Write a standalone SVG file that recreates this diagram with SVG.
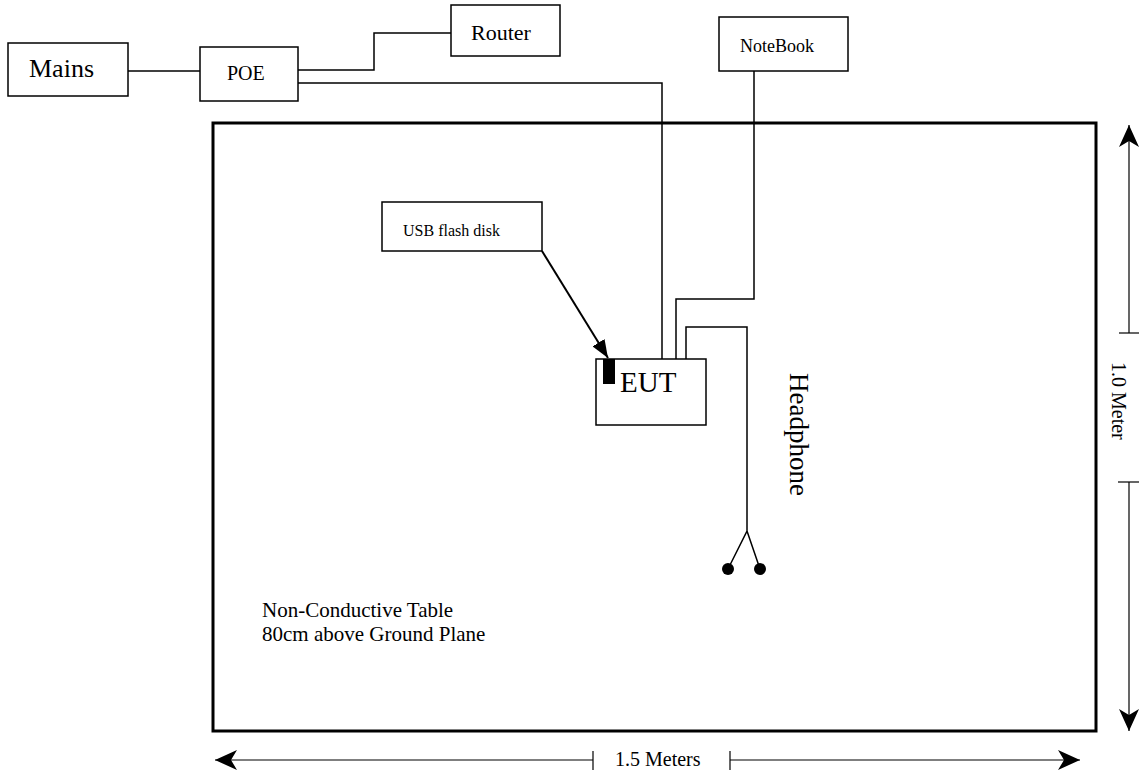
<svg xmlns="http://www.w3.org/2000/svg" width="1139" height="774" viewBox="0 0 1139 774">
<style>
  .box { fill: #fff; stroke: #000; stroke-width: 1.5; }
  .wire { fill: none; stroke: #000; stroke-width: 1.5; }
  .dim { fill: none; stroke: #000; stroke-width: 1.2; }
  text { font-family: "Liberation Serif", "Times New Roman", serif; fill: #000; }
</style>
<defs>
  <marker id="chev" viewBox="0 0 22 20" refX="22" refY="10" markerWidth="22" markerHeight="20" markerUnits="userSpaceOnUse" orient="auto-start-reverse">
    <path d="M0,0 L22,10 L0,20 L6,10 Z" fill="#000"/>
  </marker>
  <marker id="tri" viewBox="0 0 18 14" refX="18" refY="7" markerWidth="18" markerHeight="14" markerUnits="userSpaceOnUse" orient="auto">
    <path d="M0,0 L18,7 L0,14 Z" fill="#000"/>
  </marker>
</defs>

<g id="table">
  <rect x="213" y="123" width="883" height="608" fill="none" stroke="#000" stroke-width="3"/>
  <text x="262" y="617" font-size="21">Non-Conductive Table</text>
  <text x="262" y="641" font-size="21">80cm above Ground Plane</text>
</g>

<g id="connectors">
  <path class="wire" d="M128,71 H200"/>
  <path class="wire" d="M298,70 H374 V33 H451"/>
  <path class="wire" d="M298,83 H662 V359"/>
  <path class="wire" d="M754,71 V299 H676 V359"/>
  <path class="wire" d="M686,359 V327 H747 V531 L728,569 M747,531 L760,569"/>
  <line x1="542" y1="251" x2="608" y2="358" stroke="#000" stroke-width="2" marker-end="url(#tri)"/>
</g>

<g id="mains">
  <rect class="box" x="8" y="43" width="120" height="53"/>
  <text x="29" y="77" font-size="26">Mains</text>
</g>
<g id="poe">
  <rect class="box" x="200" y="47" width="98" height="54"/>
  <text x="227" y="80" font-size="20">POE</text>
</g>
<g id="router">
  <rect class="box" x="451" y="5" width="109" height="51"/>
  <text x="471" y="40" font-size="22">Router</text>
</g>
<g id="notebook">
  <rect class="box" x="719" y="17" width="129" height="54"/>
  <text x="740" y="52" font-size="18">NoteBook</text>
</g>
<g id="usb">
  <rect class="box" x="382" y="202" width="160" height="49"/>
  <text x="403" y="236" font-size="16">USB flash disk</text>
</g>
<g id="eut">
  <rect class="box" x="596" y="359" width="110" height="66"/>
  <rect x="603" y="359" width="12" height="25" fill="#000"/>
  <text x="620" y="392" font-size="29">EUT</text>
</g>
<g id="headphone">
  <circle cx="728" cy="569" r="6" fill="#000"/>
  <circle cx="760" cy="569" r="6" fill="#000"/>
  <text transform="translate(790,373) rotate(90)" font-size="27">Headphone</text>
</g>

<g id="dimensions">
  <path class="dim" d="M1129,333 V125" marker-end="url(#chev)"/>
  <path class="dim" d="M1119,333 H1139"/>
  <text transform="translate(1112,362) rotate(90)" font-size="20">1.0 Meter</text>
  <path class="dim" d="M1118,482 H1139"/>
  <path class="dim" d="M1129,482 V731" marker-end="url(#chev)"/>
  <path class="dim" d="M593,760 H215" marker-end="url(#chev)"/>
  <path class="dim" d="M593,751 V770"/>
  <text x="615" y="766" font-size="20">1.5 Meters</text>
  <path class="dim" d="M730,751 V770"/>
  <path class="dim" d="M730,760 H1080" marker-end="url(#chev)"/>
</g>
</svg>
